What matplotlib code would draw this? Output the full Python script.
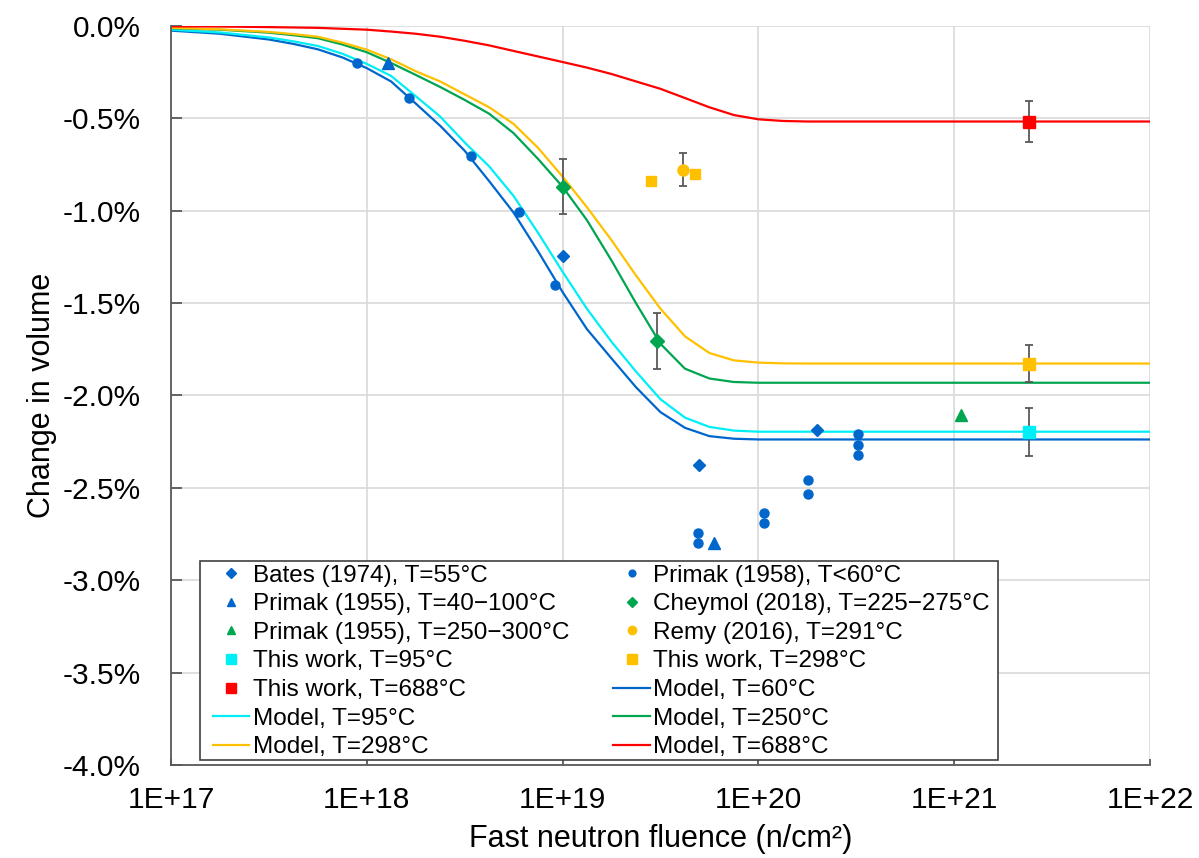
import matplotlib
matplotlib.use("Agg")
import matplotlib.pyplot as plt
from matplotlib.patches import Rectangle

plt.rcParams['font.family'] = ['Liberation Sans', 'DejaVu Sans']

# model curves (fluence n/cm2 -> change in volume %)
model_fluence = [1e17, 1.78e17, 3.16e17, 4.22e17, 5.62e17, 7.5e17, 1e18, 1.33e18, 1.78e18, 2.37e18,
                 3.16e18, 4.22e18, 5.62e18, 7.5e18, 1e19, 1.33e19, 1.78e19, 2.37e19, 3.16e19, 4.22e19,
                 5.62e19, 7.5e19, 1e20, 1.33e20, 1.78e20, 3.16e20, 1e21, 1e22]
model_60 = [-0.025, -0.042, -0.073, -0.097, -0.126, -0.170, -0.228, -0.30, -0.42, -0.54,
            -0.675, -0.84, -1.01, -1.22, -1.44, -1.64, -1.80, -1.955, -2.09, -2.175,
            -2.22, -2.234, -2.238, -2.238, -2.238, -2.238, -2.238, -2.238]
model_95 = [-0.020, -0.035, -0.062, -0.083, -0.108, -0.150, -0.205, -0.27, -0.38, -0.49,
            -0.63, -0.76, -0.92, -1.12, -1.33, -1.53, -1.71, -1.87, -2.02, -2.12,
            -2.17, -2.19, -2.196, -2.196, -2.196, -2.196, -2.196, -2.196]
model_250 = [-0.012, -0.020, -0.036, -0.050, -0.066, -0.100, -0.142, -0.20, -0.265, -0.33,
             -0.40, -0.475, -0.58, -0.72, -0.87, -1.05, -1.27, -1.50, -1.72, -1.855,
             -1.908, -1.927, -1.931, -1.931, -1.931, -1.931, -1.931, -1.931]
model_298 = [-0.010, -0.018, -0.032, -0.044, -0.058, -0.090, -0.128, -0.18, -0.245, -0.30,
             -0.37, -0.44, -0.53, -0.66, -0.815, -0.98, -1.16, -1.35, -1.53, -1.68,
             -1.77, -1.81, -1.822, -1.826, -1.827, -1.827, -1.827, -1.827]
model_688 = [-0.002, -0.003, -0.006, -0.008, -0.010, -0.015, -0.020, -0.030, -0.042, -0.058,
             -0.080, -0.105, -0.135, -0.165, -0.195, -0.225, -0.26, -0.30, -0.34, -0.39,
             -0.44, -0.482, -0.505, -0.514, -0.517, -0.517, -0.517, -0.517]

# measured points
bates_x = [1.0e19, 5.0e19, 2.0e20]
bates_y = [-1.247, -2.378, -2.188]
primak58_x = [8.9e17, 1.65e18, 3.4e18, 6.0e18, 9.1e18, 4.9e19, 4.9e19, 1.07e20, 1.07e20,
              1.79e20, 1.79e20, 3.24e20, 3.24e20, 3.24e20]
primak58_y = [-0.198, -0.391, -0.706, -1.009, -1.400, -2.742, -2.796, -2.634, -2.688,
              -2.458, -2.531, -2.211, -2.270, -2.324]
primak55a_x = [1.29e18, 5.9e19]
primak55a_y = [-0.198, -2.800]
primak55b_x = [1.09e21]
primak55b_y = [-2.103]
cheymol_x = [1.0e19, 3.03e19]
cheymol_y = [-0.869, -1.706]
cheymol_err = [0.15, 0.15]
remy_x = [4.13e19]
remy_y = [-0.778]
remy_err = [0.09]
tw298_x = [2.82e19, 4.74e19]
tw298_y = [-0.838, -0.802]
tw298_err = [0.02, 0.02]
tw_x = [2.4e21]
tw95_y = [-2.196]
tw95_err = [0.13]
tw298b_y = [-1.827]
tw298b_err = [0.10]
tw688_y = [-0.517]
tw688_err = [0.113]

yticks = [0.0, -0.5, -1.0, -1.5, -2.0, -2.5, -3.0, -3.5, -4.0]
ytick_labels = ["0.0%", "-0.5%", "-1.0%", "-1.5%", "-2.0%", "-2.5%", "-3.0%", "-3.5%", "-4.0%"]
xticks = [1e17, 1e18, 1e19, 1e20, 1e21, 1e22]
xtick_labels = ["1E+17", "1E+18", "1E+19", "1E+20", "1E+21", "1E+22"]

blue = "#0066CC"
cyan = "#00EEF5"
green = "#00A550"
gold = "#FFC000"
red = "#FF0000"
errc = "#595959"

fig = plt.figure(figsize=(11.99, 8.58), dpi=100)
ax = fig.add_axes([0.1426, 0.1084, 0.8165, 0.8613])

# model lines
m60, = ax.plot(model_fluence, model_60, color=blue, lw=1.6, label="Model, T=60°C", zorder=2)
m95, = ax.plot(model_fluence, model_95, color=cyan, lw=1.6, label="Model, T=95°C", zorder=2)
m250, = ax.plot(model_fluence, model_250, color=green, lw=1.6, label="Model, T=250°C", zorder=2)
m298, = ax.plot(model_fluence, model_298, color=gold, lw=1.6, label="Model, T=298°C", zorder=2)
m688, = ax.plot(model_fluence, model_688, color=red, lw=1.6, label="Model, T=688°C", zorder=2)

# error bars (drawn under the markers)
ebkw = dict(fmt="none", ecolor=errc, elinewidth=1.3, capsize=2.8, capthick=1.3, zorder=3)
ax.errorbar(cheymol_x, cheymol_y, yerr=cheymol_err, **ebkw)
ax.errorbar(remy_x, remy_y, yerr=remy_err, **ebkw)
ax.errorbar(tw298_x, tw298_y, yerr=tw298_err, **ebkw)
ax.errorbar(tw_x, tw95_y, yerr=tw95_err, **ebkw)
ax.errorbar(tw_x, tw298b_y, yerr=tw298b_err, **ebkw)
ax.errorbar(tw_x, tw688_y, yerr=tw688_err, **ebkw)

# markers
bates, = ax.plot(bates_x, bates_y, "D", color=blue, ms=6.5, ls="none", label="Bates (1974), T=55°C", zorder=4)
p58, = ax.plot(primak58_x, primak58_y, "o", color=blue, ms=6.5, ls="none", label="Primak (1958), T<60°C", zorder=4)
p55a, = ax.plot(primak55a_x, primak55a_y, "^", color=blue, ms=8, ls="none", label="Primak (1955), T=40−100°C", zorder=4)
p55b, = ax.plot(primak55b_x, primak55b_y, "^", color=green, ms=8, ls="none", label="Primak (1955), T=250−300°C", zorder=4)
chey, = ax.plot(cheymol_x, cheymol_y, "D", color=green, ms=7, ls="none", label="Cheymol (2018), T=225−275°C", zorder=4)
remy, = ax.plot(remy_x, remy_y, "o", color=gold, ms=8, ls="none", label="Remy (2016), T=291°C", zorder=4)
ax.plot(tw298_x, tw298_y, "s", color=gold, ms=6.5, ls="none", zorder=4)
tw298, = ax.plot(tw_x, tw298b_y, "s", color=gold, ms=9, ls="none", label="This work, T=298°C", zorder=4)
tw95, = ax.plot(tw_x, tw95_y, "s", color=cyan, ms=9, ls="none", label="This work, T=95°C", zorder=4)
tw688, = ax.plot(tw_x, tw688_y, "s", color=red, ms=9, ls="none", label="This work, T=688°C", zorder=4)

ax.set_xscale("log")
ax.set_xlim(1e17, 1e22)
ax.set_ylim(-4.0, 0.0)
ax.set_xticks(xticks)
ax.set_xticklabels(xtick_labels)
ax.minorticks_off()
ax.set_yticks(yticks)
ax.set_yticklabels(ytick_labels)

ax.grid(True, color="#D9D9D9", lw=1.2, zorder=0)
ax.set_axisbelow(True)
for s in ["top", "right"]:
    ax.spines[s].set_visible(False)
for s in ["left", "bottom"]:
    ax.spines[s].set_color("#595959")
    ax.spines[s].set_linewidth(1.3)
ax.tick_params(axis="y", direction="in", length=8, width=1.3, color="#595959",
               labelsize=21.5, pad=22)
ax.tick_params(axis="x", direction="in", length=4, width=1.3, color="#595959",
               labelsize=21.5, pad=15)

ax.set_xlabel("Fast neutron fluence (n/cm²)", fontsize=22, labelpad=7.5)
ax.set_ylabel("Change in volume", fontsize=22, labelpad=4)

# legend box (Excel style, wider than the text)
ax.add_patch(Rectangle((0.0296, 0.0068), 0.8156, 0.2693, transform=ax.transAxes,
                       facecolor="white", edgecolor="#404040", lw=1.2, zorder=5))
handles = [bates, p55a, p55b, tw95, tw688, m95, m298,
           p58, chey, remy, tw298, m60, m250, m688]
leg = ax.legend(handles=handles, labels=[h.get_label() for h in handles], ncol=2,
                loc="upper left", bbox_to_anchor=(0.0429, 0.271), borderaxespad=0,
                borderpad=0, frameon=False, fontsize=17.5, handlelength=1.5,
                handletextpad=0.15, columnspacing=1.8, labelspacing=0.27,
                markerscale=0.75)
leg.set_zorder(6)

fig.savefig("out.png", dpi=100)
